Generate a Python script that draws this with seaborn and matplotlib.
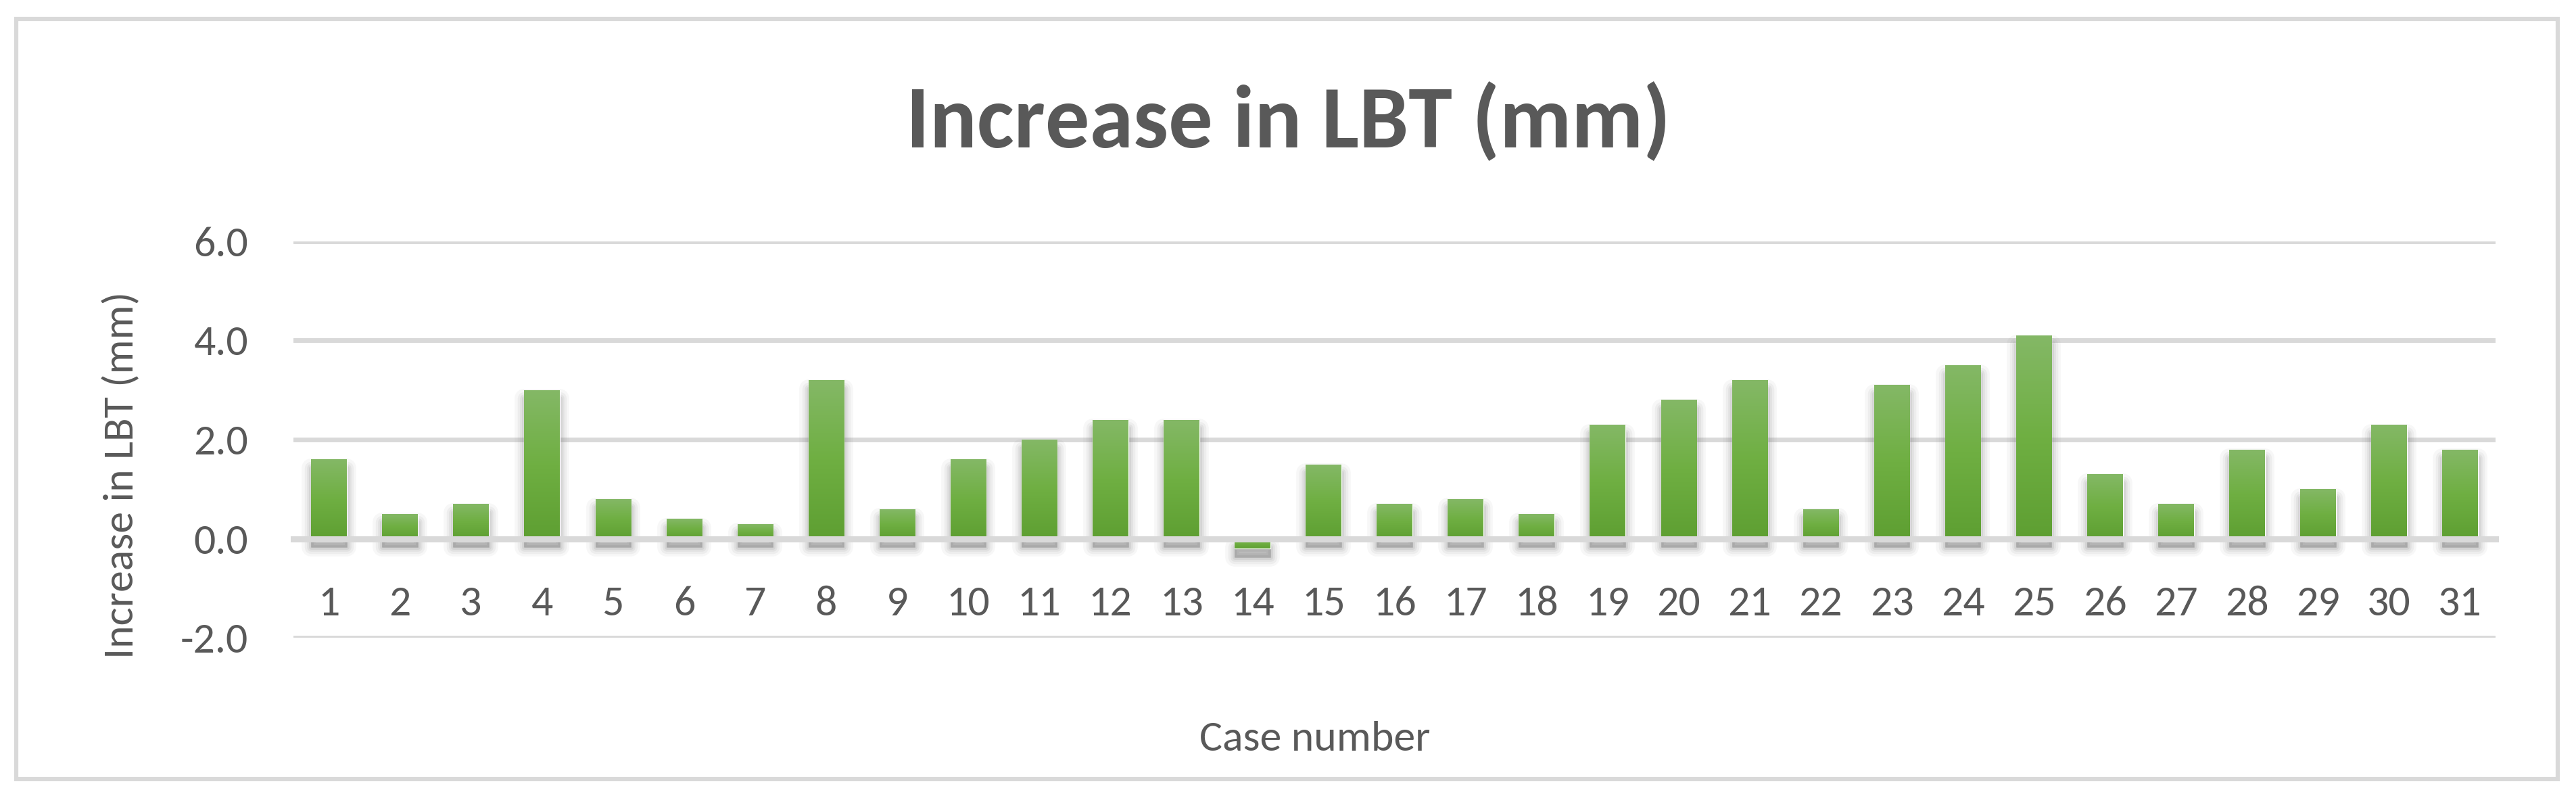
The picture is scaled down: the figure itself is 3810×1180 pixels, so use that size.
import numpy as np
import pandas as pd
import matplotlib
matplotlib.use("Agg")
import matplotlib.pyplot as plt
import matplotlib.transforms as mtransforms
from matplotlib.patches import Rectangle
from matplotlib import font_manager
import seaborn as sns

# values
case_numbers = [str(i) for i in range(1, 32)]
lbt_increase = [1.6, 0.5, 0.7, 3.0, 0.8, 0.4, 0.3, 3.2, 0.6, 1.6,
                2.0, 2.4, 2.4, -0.2, 1.5, 0.7, 0.8, 0.5, 2.3, 2.8,
                3.2, 0.6, 3.1, 3.5, 4.1, 1.3, 0.7, 1.8, 1.0, 2.3, 1.8]
y_ticks = [-2.0, 0.0, 2.0, 4.0, 6.0]

df = pd.DataFrame({"case": case_numbers, "increase": lbt_increase})

sns.set_theme(style="white")
installed = {f.name for f in font_manager.fontManager.ttflist}
family = "Carlito" if "Carlito" in installed else "Lato"
plt.rcParams["font.family"] = [family, "DejaVu Sans"]

text_col = "#595959"
grid_col = "#D9D9D9"

fig = plt.figure(figsize=(38.1, 11.8), dpi=100)
ax = fig.add_axes([0.1139, 0.2008, 0.9688 - 0.1139, 0.6975 - 0.2008])

sns.barplot(data=df, x="case", y="increase", color="#70AD47", width=0.5,
            ax=ax, zorder=3, saturation=1)

ax.set_yticks(y_ticks)
ax.set_yticklabels([f"{t:.1f}" for t in y_ticks])
ax.yaxis.grid(True, color=grid_col, linewidth=5, zorder=0)
ax.set_axisbelow(True)

# gradient fill + soft drop shadow for every bar (Excel style)
grad = np.linspace(0, 1, 256).reshape(-1, 1)
cmap = matplotlib.colors.LinearSegmentedColormap.from_list(
    "bar", ["#5E9F32", "#6FAF42", "#84B866"])
shadow_tf = ax.transData + mtransforms.ScaledTranslation(0, -9 / 72, fig.dpi_scale_trans)
for p in list(ax.patches):
    x0, y0 = p.get_x(), p.get_y()
    w, h = p.get_width(), p.get_height()
    for lw, a in [(20, 0.05), (14, 0.07), (9, 0.09), (5, 0.11), (1, 0.15)]:
        ax.add_patch(Rectangle((x0, y0), w, h, transform=shadow_tf,
                               facecolor="#6F6F6F", edgecolor="#6F6F6F",
                               linewidth=lw, alpha=a, zorder=2,
                               joinstyle="round"))
    top, bot = max(y0, y0 + h), min(y0, y0 + h)
    im = ax.imshow(grad, extent=(x0, x0 + w, bot, top), origin="lower",
                   cmap=cmap, aspect="auto", zorder=3.5)
    im.set_clip_path(p)
ax.set_ylim(-2, 6)
ax.set_xlim(-0.5, len(case_numbers) - 0.5)

for s in ["top", "right", "left"]:
    ax.spines[s].set_visible(False)
ax.spines["bottom"].set_position(("data", 0))
ax.spines["bottom"].set_color(grid_col)
ax.spines["bottom"].set_linewidth(6.5)
ax.spines["bottom"].set_zorder(4)

ax.tick_params(axis="x", length=0, pad=50, labelsize=46, labelcolor=text_col)
ax.tick_params(axis="y", length=0, pad=48, labelsize=46, labelcolor=text_col)

ax.set_xlabel("")
ax.set_ylabel("")
fig.text(0.5105, 1 - 1093 / 1180, "Case number", ha="center", va="center",
         fontsize=46, color=text_col)
fig.text(179 / 3810, 1 - 703 / 1180, "Increase in LBT (mm)", ha="center",
         va="center", rotation=90, fontsize=46, color=text_col)
fig.text(1905 / 3810, 1 - 180 / 1180, "Increase in LBT (mm)", ha="center",
         va="center", fontsize=94, fontweight="bold", color=text_col)

# chart area border
fig.patches.append(Rectangle((24 / 3810, 1 - 1152 / 1180),
                             (3783 - 24) / 3810, (1152 - 28) / 1180,
                             transform=fig.transFigure, fill=False,
                             edgecolor=grid_col, linewidth=4.5))

fig.savefig("out.png", dpi=100, facecolor="white")
